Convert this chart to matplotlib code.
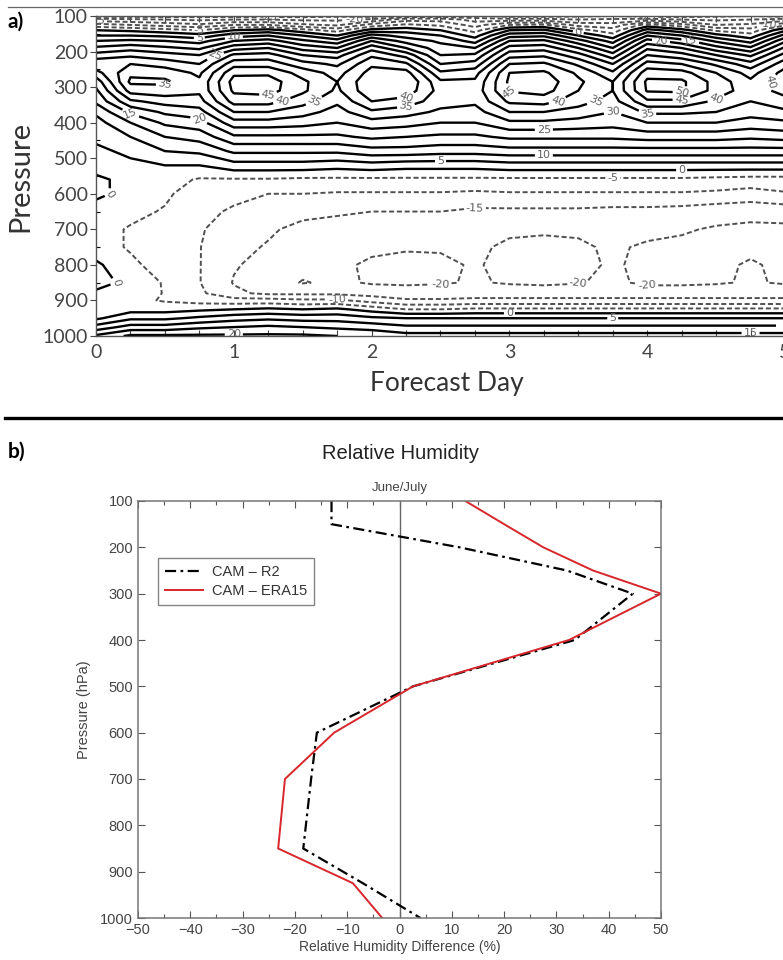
import numpy as np
import matplotlib.pyplot as plt
from matplotlib.lines import Line2D
from matplotlib.ticker import MultipleLocator

plt.rcParams['lines.dashed_pattern'] = [2.6, 1.4]

# ---- panel a: forecast-day / pressure section
forecast_days = [0, 0.25, 0.5, 0.75, 1.0, 1.25, 1.5, 1.75, 2.0, 2.25, 2.5,
                 2.75, 3.0, 3.25, 3.5, 3.75, 4.0, 4.25, 4.5, 4.75, 5.0]
pressure_levels = [100, 110, 125, 140, 155, 170, 190, 210, 235, 260, 285, 310,
                   340, 370, 400, 440, 480, 520, 560, 600, 650, 700, 750, 800,
                   850, 880, 900, 925, 950, 975, 1000]

# one profile (top -> bottom) per forecast day
rh_bias_by_day = [
    [-27, -18, -8, 0, 5, 10, 16, 22, 29, 23, 17, 14, 11, 6, 3, 1, -1, -2, 1, 1, -2, -3, -3, 1, 2, -1, -3, -3, -1, 7, 16],
    [-27, -19, -10, -1, 5, 11, 18, 24, 30, 34, 36, 32, 24, 16, 10, 5, 1, -1, -1.5, -1.5, -3.5, -5.5, -5.5, -4, -1.5, -3, -3.5, -2, 4, 12, 21],
    [-27, -20, -12, -3, 4, 10, 16, 22, 28, 33, 36, 33, 27, 21, 16, 10, 5, 0, -3, -4, -5.5, -7, -7.5, -7, -5.5, -5.2, -5.5, -2, 4, 12, 21],
    [-27, -21, -14, -5, 2, 8, 14, 20, 25, 29, 31, 31, 28, 23, 18, 12, 6, 0, -5.5, -8, -9, -9.5, -9.8, -9.8, -9.8, -9, -7, -1, 6, 14, 21],
    [-27, -20, -10, 0, 8, 15, 23, 31, 38, 44, 47, 46, 42, 35, 28, 19, 11, 3, -5.5, -9, -10.5, -12.5, -14, -14.6, -15.3, -14, -8, 0, 8, 15, 21],
    [-27, -20, -10, 2, 10, 17, 25, 32, 38, 44, 47.5, 47, 42, 35, 28, 19, 11, 3, -5.5, -10, -12.5, -14.5, -15.3, -16.5, -17.5, -16, -8, 1, 9, 16, 21],
    [-27, -21, -14, -3, 5, 11, 18, 25, 32, 38, 41, 41, 37, 32, 27, 19, 11, 3, -6, -10, -14, -16, -17, -18.5, -20.3, -16, -9, 0, 8, 15, 21],
    [-26, -21, -16, -7, 0, 7, 15, 23, 29, 33, 35, 34, 31, 28, 25, 19, 11, 2, -6, -10.5, -14.5, -16.5, -18, -19, -19, -16, -9, 1, 8, 14, 20],
    [-27, -19, -8, 2, 12, 20, 28, 34, 39, 42, 44, 44, 40, 34, 28, 21, 13, 3, -6, -10.5, -15, -17.5, -19, -20.8, -20.5, -17, -12, -2, 6, 13, 19],
    [-24, -12, -4, 3, 8, 13, 20, 28, 36, 42, 45, 43, 38, 32, 27, 20, 13, 2, -6, -10.5, -15, -18, -19.5, -21.5, -21, -17, -14.5, -5, 5, 11, 17],
    [-23, -12, -6, 0, 5, 9, 12, 15, 20, 26, 31, 33, 32, 29, 25, 19, 12, 2, -6, -10.5, -15, -18, -19.5, -21, -20.5, -17, -14.5, -5, 5, 11, 17],
    [-24, -17, -12, -7, -2, 3, 10, 16, 22, 28, 31, 32, 31, 28, 25, 19, 12, 2, -6, -11, -16, -18, -19, -19.5, -19.5, -17, -14, -4, 5, 11, 17],
    [-27, -18, -5, 5, 13, 20, 27, 33, 40, 45, 46, 45.5, 41, 35, 29, 21, 13, 3, -6, -10.5, -16, -19, -21, -21.5, -20.5, -17, -14, -4, 5, 11, 17],
    [-27, -18, -4, 6, 14, 21, 28, 34, 41, 46, 48, 47, 42, 35, 29, 21, 13, 3, -6, -10.5, -16, -19.5, -21, -22, -21, -17, -14, -4, 5, 11, 17],
    [-26, -20, -12, -3, 5, 12, 20, 27, 34, 39, 41, 40, 37, 33, 28, 21, 13, 3, -6, -10.5, -16, -19.5, -20.5, -21, -20.3, -17, -14, -4, 5, 11, 17],
    [-25, -19, -13, -8, -3, 3, 10, 17, 25, 31, 35, 35, 33, 30, 27, 21, 13, 3, -6, -10.5, -16.5, -19, -19.5, -19.5, -19, -17, -14, -4, 5, 11, 17],
    [-27, -18, -3, 7, 15, 22, 29, 35, 42, 48, 51, 50.5, 44, 36, 30, 22, 13, 3, -6, -10.5, -16.5, -19, -20.5, -21, -21, -17, -14, -4, 5, 11, 17],
    [-27, -20, -8, 2, 10, 17, 25, 32, 40, 47, 51, 51, 44, 36, 30, 22, 13, 3, -6, -10.5, -17, -19.5, -21, -21.5, -21, -17, -14, -4, 5, 11, 17],
    [-26, -21, -15, -6, 2, 9, 17, 25, 34, 40, 43, 43, 39, 35, 30, 22, 13, 3, -6.5, -11, -18, -20.5, -21.5, -21, -20.5, -17, -14, -4, 5, 11, 17],
    [-25, -20, -14, -8, -3, 3, 11, 19, 27, 33, 36, 37, 35, 32, 28, 21, 13, 3, -7, -12, -18.5, -21, -21, -19.5, -19.5, -17, -14, -4, 5, 11, 17],
    [-27, -18, -6, 4, 12, 19, 26, 32, 38, 42, 43, 42, 38, 34, 29, 22, 13, 3, -7, -10.5, -18, -21, -21.5, -21, -20.5, -17, -14, -4, 5, 11, 17],
]

# ---- panel b: June/July relative humidity difference profiles
profile_pressure = [100, 150, 200, 250, 300, 400, 500, 600, 700, 850, 925, 1000]
cam_minus_r2 = [-13, -13, 11.5, 32, 44.6, 33.5, 2.6, -15.8, -16.9, -18.4, -7, 4]
cam_minus_era15 = [12.6, 20, 27.5, 37, 50, 32.4, 2.6, -12.5, -21.9, -23.2, -8.9, -3.3]

W, H = 783, 960
fig = plt.figure(figsize=(W / 100, H / 100), dpi=100)

# ----------------------------------------------------------------- panel a
axa = fig.add_axes([96 / W, 1 - 336 / H, 689 / W, 320 / H])
X, Y = np.meshgrid(forecast_days, pressure_levels)
Z = np.array(rh_bias_by_day).T

neg = axa.contour(X, Y, Z, levels=np.arange(-25, 0, 5), colors='#505050',
                  linestyles='dashed', linewidths=1.4)
pos = axa.contour(X, Y, Z, levels=np.arange(0, 60, 5), colors='black',
                  linestyles='solid', linewidths=1.7)
for cs in (neg, pos):
    labels = axa.clabel(cs, fmt='%d', fontsize=8, colors='#606060', inline=True,
                        inline_spacing=2)
    # drop labels that would hang over the cut-off right edge
    for t in labels:
        if t.get_position()[0] > 4.9:
            t.set_visible(False)

axa.set_xlim(0, 5)
axa.set_ylim(1000, 100)
axa.set_xticks(range(6))
axa.xaxis.set_minor_locator(MultipleLocator(0.25))
axa.set_yticks(range(100, 1001, 100))
axa.yaxis.set_minor_locator(MultipleLocator(50))
axa.tick_params(axis='x', which='both', direction='in', top=True, length=4,
                width=0.8, colors='#444', labelsize=14, pad=6)
axa.tick_params(axis='y', which='major', direction='out', length=4, width=0.8,
                colors='#444', labelsize=14, pad=2)
axa.tick_params(axis='y', which='minor', direction='in', length=3, width=0.8)
for lab in axa.get_xticklabels() + axa.get_yticklabels():
    lab.set_family('Lato')
for s in axa.spines.values():
    s.set_color('#555')
    s.set_linewidth(1.0)
axa.spines['right'].set_visible(False)

fig.text(20 / W, 1 - 176 / H, 'Pressure', rotation=90, fontsize=21,
         family='Lato', color='#333', ha='center', va='center')
fig.text(447 / W, 1 - 384 / H, 'Forecast Day', fontsize=19, family='Lato',
         color='#333', ha='center', va='center')
fig.text(8 / W, 1 - 22 / H, 'a)', fontsize=15, weight='bold', family='Lato',
         ha='left', va='center')

# separators
fig.add_artist(Line2D([0.01, 1], [1 - 7 / H] * 2, color='#666', lw=0.9))
fig.add_artist(Line2D([5 / W, 1], [1 - 418 / H] * 2, color='black', lw=2.4))

# ----------------------------------------------------------------- panel b
axb = fig.add_axes([138 / W, 42 / H, 523 / W, 417 / H])
axb.axvline(0, color='#666', lw=1.0)
axb.plot(cam_minus_r2, profile_pressure, color='black', lw=1.6,
         dashes=(5, 2, 1.2, 2), label='CAM – R2')
axb.plot(cam_minus_era15, profile_pressure, color='#d8262b', lw=1.4,
         label='CAM – ERA15')
axb.set_xlim(-50, 50)
axb.set_ylim(1000, 100)
axb.set_xticks(range(-50, 51, 10))
axb.xaxis.set_minor_locator(MultipleLocator(5))
axb.set_yticks(range(100, 1001, 100))
axb.tick_params(which='both', direction='in', top=True, right=True,
                colors='#555', labelsize=10.5, width=0.8)
axb.tick_params(which='major', length=5)
axb.tick_params(which='minor', length=3)
for lab in axb.get_xticklabels() + axb.get_yticklabels():
    lab.set_family('Liberation Sans')
    lab.set_color('#444')
for s in axb.spines.values():
    s.set_color('#777')
    s.set_linewidth(1.1)

axb.set_xlabel('Relative Humidity Difference (%)', fontsize=10,
               family='Liberation Sans', color='#444', labelpad=2)
axb.set_ylabel('Pressure (hPa)', fontsize=10.5, family='Liberation Sans',
               color='#444', labelpad=7)
axb.set_title('June/July', fontsize=9.5, family='Liberation Sans', color='#444',
              pad=7)
fig.text(400 / W, 1 - 453 / H, 'Relative Humidity', fontsize=14.5,
         family='Liberation Sans', color='#222', ha='center', va='center')
fig.text(8 / W, 1 - 452 / H, 'b)', fontsize=15, weight='bold', family='Lato',
         ha='left', va='center')

leg = axb.legend(loc='upper left', bbox_to_anchor=(0.038, 0.863),
                 borderaxespad=0, fancybox=False, handlelength=2.6,
                 handletextpad=0.6, labelspacing=0.3, borderpad=0.5,
                 prop={'family': 'Liberation Sans', 'size': 10.5})
leg.get_frame().set_edgecolor('#666')
leg.get_frame().set_linewidth(1.0)
for t in leg.get_texts():
    t.set_color('#333')

fig.savefig('out.png', dpi=100)
